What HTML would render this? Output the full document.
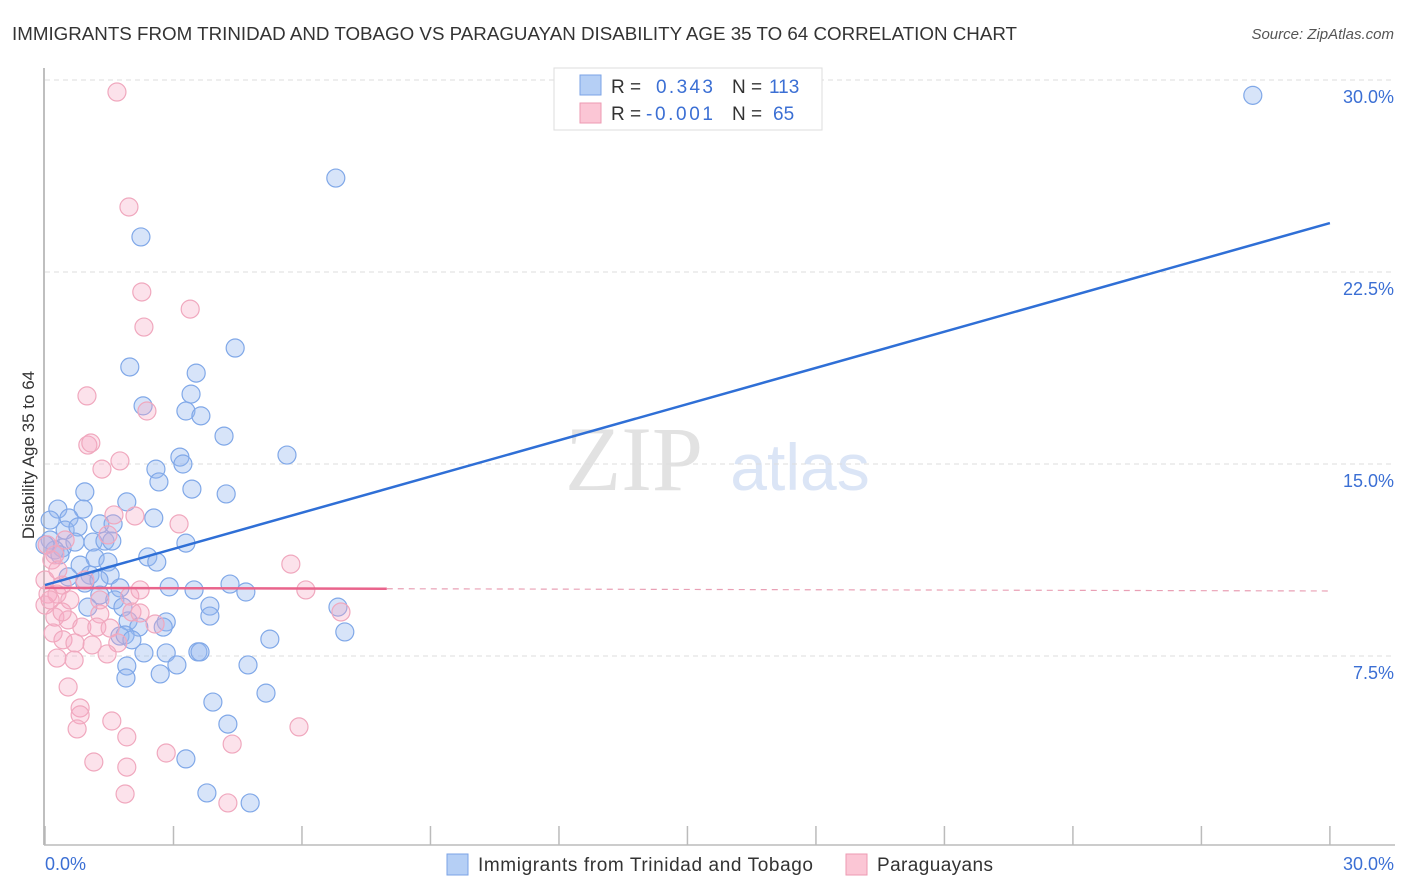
<!DOCTYPE html>
<html><head><meta charset="utf-8"><style>
body{margin:0;background:#fff;font-family:"Liberation Sans",sans-serif;}
svg{display:block}
</style></head><body>
<svg id="chart" width="1406" height="892">
<text x="12" y="40" font-size="18" fill="#333" textLength="1005" lengthAdjust="spacingAndGlyphs">IMMIGRANTS FROM TRINIDAD AND TOBAGO VS PARAGUAYAN DISABILITY AGE 35 TO 64 CORRELATION CHART</text>
<text x="1394" y="39" font-size="15" fill="#555" font-style="italic" text-anchor="end">Source: ZipAtlas.com</text>
<text x="634" y="490" font-size="92" fill="#e2e2e2" font-family="Liberation Serif,serif" text-anchor="middle">ZIP</text>
<text x="800" y="490" font-size="66" fill="#dbe5f6" text-anchor="middle">atlas</text>
<g id="grid"></g><g id="marks"></g>
<text transform="translate(34,455) rotate(-90)" font-size="17" fill="#333" text-anchor="middle">Disability Age 35 to 64</text>
<text x="45" y="870" font-size="18" fill="#3b6fd4">0.0%</text>
<text x="1394" y="870" font-size="18" fill="#3b6fd4" text-anchor="end">30.0%</text>
<g>
<rect x="554" y="68" width="268" height="62" fill="#fff" stroke="#ddd"/>
<rect x="580" y="75" width="21" height="20" fill="#b5cff5" stroke="#7ba3e6"/>
<rect x="580" y="103" width="21" height="20" fill="#fbc6d5" stroke="#ec9ab2"/>
<text x="611" y="93" font-size="19" fill="#333">R =</text><text x="656" y="93" font-size="19" fill="#3b6fd4" textLength="57">0.343</text>
<text x="732" y="93" font-size="19" fill="#333">N =</text><text x="769" y="93" font-size="19" fill="#3b6fd4">113</text>
<text x="611" y="120" font-size="19" fill="#333">R =</text><text x="646" y="120" font-size="19" fill="#3b6fd4" textLength="67">-0.001</text>
<text x="732" y="120" font-size="19" fill="#333">N =</text><text x="773" y="120" font-size="19" fill="#3b6fd4">65</text>
</g>
<g>
<rect x="447" y="854" width="21" height="21" fill="#b5cff5" stroke="#7ba3e6"/>
<text x="478" y="871" font-size="19" fill="#333" textLength="335">Immigrants from Trinidad and Tobago</text>
<rect x="846" y="854" width="21" height="21" fill="#fbc6d5" stroke="#ec9ab2"/>
<text x="877" y="871" font-size="19" fill="#333" textLength="116">Paraguayans</text>
</g>
</svg>
<script>
const yTicks=[7.5,15,22.5,30];
const yTickLabels=["7.5%","15.0%","22.5%","30.0%"];
const xTicks=[0,3,6,9,12,15,18,21,24,27,30];
const blueX=[28.2,6.79,2.24,4.44,1.98,3.53,3.41,2.29,3.29,3.64,4.18,3.15,2.59,3.22,2.66,3.43,4.23,0.93,1.91,0.3,0.89,2.54,0.56,1.28,0.47,1.59,0.77,5.65,0.12,0.4,0.7,1.12,1.4,1.56,2.4,3.29,2.61,0.23,1.17,1.47,0.82,0.54,1.05,1.52,0.93,1.26,1.75,2.9,3.48,4.32,4.69,1.28,1.63,1.0,1.82,3.85,6.84,3.85,2.83,1.94,2.76,2.19,1.75,1.87,2.03,5.25,7.0,2.31,2.83,3.57,3.62,1.91,3.08,4.74,1.89,2.69,5.16,3.92,4.27,3.29,3.78,4.79,0.12,0,0.35];
const blueY=[29.4,26.17,23.87,19.53,18.79,18.55,17.73,17.27,17.07,16.88,16.09,15.27,14.8,15.0,14.3,14.02,13.83,13.91,13.52,13.24,13.24,12.89,12.89,12.66,12.42,12.66,12.54,15.35,12.03,11.72,11.95,11.95,11.99,11.99,11.37,11.91,11.17,11.64,11.33,11.17,11.05,10.59,10.66,10.66,10.35,10.47,10.16,10.2,10.08,10.31,10.0,9.88,9.69,9.41,9.41,9.45,9.41,9.06,8.83,8.87,8.63,8.63,8.28,8.32,8.13,8.16,8.44,7.62,7.62,7.66,7.66,7.11,7.15,7.15,6.64,6.8,6.05,5.7,4.84,3.48,2.15,1.76,12.81,11.84,11.45];
const pinkX=[1.68,1.96,2.26,3.39,2.31,0.98,2.38,1.0,1.07,1.33,1.75,3.13,1.61,2.1,1.47,0.05,0.23,5.74,6.09,0.07,0.28,1.98,0.58,0,2.03,2.22,1.28,0.23,0.54,0.86,1.21,2.57,1.52,0.19,0.42,0.7,1.1,1.7,1.45,0.28,0.68,6.91,0.54,0.82,0.82,0.75,1.56,1.91,2.83,4.37,5.93,1.14,1.91,1.87,4.27,0.12,0,0.4,0.16,0.47,0.3,0.4,0.93,1.28,2.22];
const pinkY=[29.53,25.04,21.72,21.05,20.35,17.66,17.07,15.74,15.82,14.8,15.12,12.66,13.01,12.97,12.23,11.84,11.45,11.09,10.08,9.92,9.92,9.84,9.69,9.49,9.22,9.18,9.14,9.02,8.91,8.63,8.63,8.75,8.59,8.4,8.13,8.01,7.93,8.01,7.58,7.42,7.34,9.22,6.29,5.47,5.2,4.65,4.96,4.34,3.71,4.06,4.73,3.36,3.16,2.11,1.76,9.69,10.47,10.27,11.25,12.03,10.86,9.22,10.47,9.69,10.08];
const blueTrend=[10.27,24.41];
const pinkTrend=[10.16,10.04];
const pinkSolidEnd=7.98;
const NS="http://www.w3.org/2000/svg";
const X=v=>45+v*42.83, Y=v=>848-v*25.6;
function mk(t,a,p){const e=document.createElementNS(NS,t);for(const k in a)e.setAttribute(k,a[k]);p.appendChild(e);return e;}
const grid=document.getElementById('grid'), marks=document.getElementById('marks');
yTicks.forEach((v,i)=>{
 const l=mk('line',{x1:45,x2:1395,y1:Y(v),y2:Y(v),stroke:'#ddd','stroke-dasharray':'5,4'},grid);
 
 
 const t=mk('text',{x:1394,y:Y(v)+23,'font-size':18,fill:'#3b6fd4','text-anchor':'end'},grid);
 t.textContent=yTickLabels[i];
 
 
});
const ax=mk('line',{x1:44,x2:44,y1:68,y2:845,stroke:'#aaa','stroke-width':1.5},grid);


const bx=mk('line',{x1:44,x2:1395,y1:845,y2:845,stroke:'#bbb','stroke-width':1.5},grid);


xTicks.forEach(v=>{
 const t=mk('line',{x1:X(v),x2:X(v),y1:826,y2:845,stroke:'#bbb','stroke-width':1.5},grid);
 
 
});
blueX.forEach((v,i)=>{
 const c=mk('circle',{cx:X(v),cy:Y(blueY[i]),r:9,fill:'rgba(150,185,240,0.38)',stroke:'#80a8e8','stroke-width':1.2},marks);
 
 
});
pinkX.forEach((v,i)=>{
 const c=mk('circle',{cx:X(v),cy:Y(pinkY[i]),r:9,fill:'rgba(245,170,195,0.34)',stroke:'#f0a8be','stroke-width':1.2},marks);
 
 
});
const bl=mk('line',{x1:X(0),y1:Y(blueTrend[0]),x2:X(30),y2:Y(blueTrend[1]),stroke:'#2f6fd6','stroke-width':2.5},marks);


const pt=v=>pinkTrend[0]+(pinkTrend[1]-pinkTrend[0])*v/30;
const ps=mk('line',{x1:X(0),y1:Y(pt(0)),x2:X(pinkSolidEnd),y2:Y(pt(pinkSolidEnd)),stroke:'#e9648c','stroke-width':2.5},marks);


const pd=mk('line',{x1:X(pinkSolidEnd),y1:Y(pt(pinkSolidEnd)),x2:X(30),y2:Y(pt(30)),stroke:'#e9a0b5','stroke-width':1.2,'stroke-dasharray':'6,5'},marks);


</script>
</body></html>
